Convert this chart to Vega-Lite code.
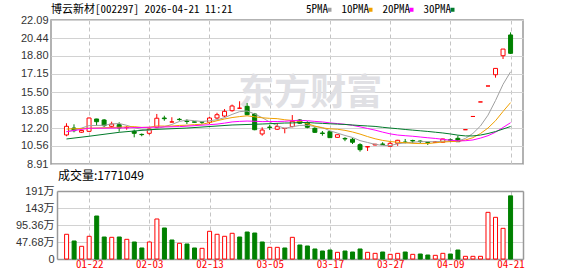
{
  "$schema": "https://vega.github.io/schema/vega-lite/v6.json",
  "padding": {"left": 0, "top": 3, "right": 0, "bottom": 0},
  "background": "white",
  "spacing": 0,
  "datasets": {
    "k": [
      {"i":0,"d":"01-19","o":11.57,"h":12.64,"l":11.45,"c":12.36,"v":69.3,"dir":"u"},
      {"i":1,"d":"01-20","o":12.20,"h":12.54,"l":11.81,"c":11.96,"v":50.5,"dir":"d"},
      {"i":2,"d":"01-21","o":11.82,"h":12.02,"l":11.76,"c":11.98,"v":35.6,"dir":"u"},
      {"i":3,"d":"01-22","o":11.90,"h":13.15,"l":11.85,"c":13.12,"v":63.7,"dir":"u"},
      {"i":4,"d":"01-23","o":13.03,"h":13.05,"l":12.42,"c":12.78,"v":120.6,"dir":"d"},
      {"i":5,"d":"01-26","o":12.94,"h":13.03,"l":12.30,"c":12.42,"v":61.7,"dir":"d"},
      {"i":6,"d":"01-27","o":12.36,"h":12.78,"l":12.21,"c":12.57,"v":60.8,"dir":"u"},
      {"i":7,"d":"01-28","o":12.51,"h":12.73,"l":11.87,"c":12.21,"v":61.7,"dir":"d"},
      {"i":8,"d":"01-29","o":12.24,"h":12.40,"l":12.05,"c":12.26,"v":55.2,"dir":"u"},
      {"i":9,"d":"01-30","o":11.90,"h":12.05,"l":11.35,"c":11.72,"v":47.7,"dir":"d"},
      {"i":10,"d":"02-02","o":11.62,"h":11.70,"l":11.45,"c":11.60,"v":30.9,"dir":"d"},
      {"i":11,"d":"02-03","o":11.72,"h":12.15,"l":11.59,"c":12.11,"v":47.7,"dir":"u"},
      {"i":12,"d":"02-04","o":12.27,"h":13.49,"l":12.20,"c":13.10,"v":112.2,"dir":"u"},
      {"i":13,"d":"02-05","o":13.12,"h":13.33,"l":12.87,"c":13.06,"v":87.0,"dir":"d"},
      {"i":14,"d":"02-06","o":12.75,"h":13.19,"l":12.72,"c":12.76,"v":53.3,"dir":"d"},
      {"i":15,"d":"02-09","o":13.00,"h":13.12,"l":12.87,"c":12.98,"v":44.0,"dir":"u"},
      {"i":16,"d":"02-10","o":12.84,"h":13.00,"l":12.57,"c":12.80,"v":42.1,"dir":"d"},
      {"i":17,"d":"02-11","o":12.77,"h":12.79,"l":12.70,"c":12.73,"v":30.9,"dir":"d"},
      {"i":18,"d":"02-12","o":12.76,"h":12.85,"l":12.58,"c":12.74,"v":30.0,"dir":"u"},
      {"i":19,"d":"02-13","o":12.73,"h":13.24,"l":12.57,"c":13.12,"v":77.7,"dir":"u"},
      {"i":20,"d":"02-24","o":13.12,"h":13.60,"l":13.00,"c":13.42,"v":69.3,"dir":"u"},
      {"i":21,"d":"02-25","o":13.30,"h":13.94,"l":13.19,"c":13.73,"v":63.7,"dir":"u"},
      {"i":22,"d":"02-26","o":13.79,"h":14.35,"l":13.70,"c":14.22,"v":72.1,"dir":"u"},
      {"i":23,"d":"02-27","o":14.01,"h":14.65,"l":13.98,"c":14.02,"v":61.7,"dir":"d"},
      {"i":24,"d":"03-02","o":14.19,"h":14.49,"l":13.38,"c":13.42,"v":75.7,"dir":"d"},
      {"i":25,"d":"03-03","o":13.49,"h":13.58,"l":12.00,"c":12.05,"v":72.9,"dir":"d"},
      {"i":26,"d":"03-04","o":11.66,"h":12.27,"l":11.50,"c":12.02,"v":47.7,"dir":"d"},
      {"i":27,"d":"03-05","o":12.29,"h":12.50,"l":12.02,"c":12.25,"v":32.7,"dir":"u"},
      {"i":28,"d":"03-06","o":12.09,"h":12.64,"l":12.02,"c":12.33,"v":32.7,"dir":"u"},
      {"i":29,"d":"03-09","o":12.16,"h":12.20,"l":11.72,"c":12.18,"v":30.9,"dir":"d"},
      {"i":30,"d":"03-10","o":12.33,"h":13.39,"l":12.27,"c":12.82,"v":60.8,"dir":"u"},
      {"i":31,"d":"03-11","o":12.94,"h":13.03,"l":12.57,"c":12.64,"v":39.3,"dir":"d"},
      {"i":32,"d":"03-12","o":12.69,"h":12.82,"l":12.18,"c":12.27,"v":36.5,"dir":"d"},
      {"i":33,"d":"03-13","o":12.18,"h":12.27,"l":11.75,"c":11.81,"v":28.1,"dir":"d"},
      {"i":34,"d":"03-16","o":11.75,"h":11.93,"l":11.50,"c":11.70,"v":22.4,"dir":"d"},
      {"i":35,"d":"03-17","o":11.87,"h":11.93,"l":11.30,"c":11.32,"v":25.2,"dir":"d"},
      {"i":36,"d":"03-18","o":11.35,"h":11.62,"l":11.33,"c":11.59,"v":18.7,"dir":"u"},
      {"i":37,"d":"03-19","o":11.25,"h":11.36,"l":11.00,"c":11.20,"v":22.4,"dir":"d"},
      {"i":38,"d":"03-20","o":11.17,"h":11.29,"l":10.74,"c":10.90,"v":19.6,"dir":"d"},
      {"i":39,"d":"03-23","o":10.68,"h":10.81,"l":10.04,"c":10.22,"v":28.1,"dir":"d"},
      {"i":40,"d":"03-24","o":10.47,"h":10.52,"l":10.10,"c":10.50,"v":18.7,"dir":"u"},
      {"i":41,"d":"03-25","o":10.65,"h":10.75,"l":10.62,"c":10.72,"v":15.9,"dir":"u"},
      {"i":42,"d":"03-26","o":10.74,"h":10.90,"l":10.68,"c":10.70,"v":19.6,"dir":"d"},
      {"i":43,"d":"03-27","o":10.53,"h":10.95,"l":10.50,"c":10.80,"v":13.1,"dir":"u"},
      {"i":44,"d":"03-30","o":10.80,"h":11.12,"l":10.57,"c":11.08,"v":15.9,"dir":"u"},
      {"i":45,"d":"03-31","o":10.92,"h":11.20,"l":10.80,"c":10.88,"v":19.6,"dir":"d"},
      {"i":46,"d":"04-01","o":11.06,"h":11.13,"l":10.80,"c":11.02,"v":13.1,"dir":"u"},
      {"i":47,"d":"04-02","o":11.01,"h":11.08,"l":10.80,"c":10.97,"v":14.0,"dir":"d"},
      {"i":48,"d":"04-03","o":10.90,"h":10.93,"l":10.65,"c":10.87,"v":11.2,"dir":"d"},
      {"i":49,"d":"04-07","o":10.88,"h":10.98,"l":10.85,"c":10.95,"v":10.3,"dir":"u"},
      {"i":50,"d":"04-08","o":10.90,"h":11.22,"l":10.87,"c":11.20,"v":15.9,"dir":"u"},
      {"i":51,"d":"04-09","o":11.13,"h":11.26,"l":10.92,"c":11.09,"v":14.0,"dir":"d"},
      {"i":52,"d":"04-10","o":11.26,"h":11.50,"l":10.93,"c":10.95,"v":25.2,"dir":"d"},
      {"i":53,"d":"04-13","o":12.05,"h":12.05,"l":12.05,"c":12.05,"v":7.5,"dir":"u"},
      {"i":54,"d":"04-14","o":13.26,"h":13.26,"l":13.26,"c":13.26,"v":7.5,"dir":"u"},
      {"i":55,"d":"04-15","o":14.59,"h":14.59,"l":14.59,"c":14.59,"v":7.5,"dir":"u"},
      {"i":56,"d":"04-16","o":16.05,"h":16.05,"l":16.05,"c":16.05,"v":130.9,"dir":"u"},
      {"i":57,"d":"04-17","o":17.08,"h":17.66,"l":16.81,"c":17.66,"v":116.9,"dir":"u"},
      {"i":58,"d":"04-20","o":18.82,"h":19.43,"l":18.52,"c":19.43,"v":86.0,"dir":"u"},
      {"i":59,"d":"04-21","o":20.72,"h":20.96,"l":18.98,"c":19.04,"v":177.1,"dir":"d"}
    ],
    "ma": [
      {"i":0,"k":"5PMA","v":11.87},{"i":1,"k":"5PMA","v":12.00},{"i":2,"k":"5PMA","v":12.20},{"i":3,"k":"5PMA","v":12.42},{"i":4,"k":"5PMA","v":12.44},{"i":5,"k":"5PMA","v":12.45},{"i":6,"k":"5PMA","v":12.57},{"i":7,"k":"5PMA","v":12.62},{"i":8,"k":"5PMA","v":12.45},{"i":9,"k":"5PMA","v":12.24},{"i":10,"k":"5PMA","v":12.07},{"i":11,"k":"5PMA","v":11.98},{"i":12,"k":"5PMA","v":12.16},{"i":13,"k":"5PMA","v":12.32},{"i":14,"k":"5PMA","v":12.53},{"i":15,"k":"5PMA","v":12.80},{"i":16,"k":"5PMA","v":12.94},{"i":17,"k":"5PMA","v":12.87},{"i":18,"k":"5PMA","v":12.80},{"i":19,"k":"5PMA","v":12.87},{"i":20,"k":"5PMA","v":12.96},{"i":21,"k":"5PMA","v":13.15},{"i":22,"k":"5PMA","v":13.45},{"i":23,"k":"5PMA","v":13.70},{"i":24,"k":"5PMA","v":13.76},{"i":25,"k":"5PMA","v":13.49},{"i":26,"k":"5PMA","v":13.15},{"i":27,"k":"5PMA","v":12.75},{"i":28,"k":"5PMA","v":12.41},{"i":29,"k":"5PMA","v":12.17},{"i":30,"k":"5PMA","v":12.32},{"i":31,"k":"5PMA","v":12.44},{"i":32,"k":"5PMA","v":12.45},{"i":33,"k":"5PMA","v":12.34},{"i":34,"k":"5PMA","v":12.25},{"i":35,"k":"5PMA","v":11.95},{"i":36,"k":"5PMA","v":11.74},{"i":37,"k":"5PMA","v":11.52},{"i":38,"k":"5PMA","v":11.34},{"i":39,"k":"5PMA","v":11.05},{"i":40,"k":"5PMA","v":10.88},{"i":41,"k":"5PMA","v":10.71},{"i":42,"k":"5PMA","v":10.61},{"i":43,"k":"5PMA","v":10.59},{"i":44,"k":"5PMA","v":10.76},{"i":45,"k":"5PMA","v":10.84},{"i":46,"k":"5PMA","v":10.90},{"i":47,"k":"5PMA","v":10.95},{"i":48,"k":"5PMA","v":10.96},{"i":49,"k":"5PMA","v":10.94},{"i":50,"k":"5PMA","v":11.00},{"i":51,"k":"5PMA","v":11.02},{"i":52,"k":"5PMA","v":11.01},{"i":53,"k":"5PMA","v":11.25},{"i":54,"k":"5PMA","v":11.71},{"i":55,"k":"5PMA","v":12.39},{"i":56,"k":"5PMA","v":13.38},{"i":57,"k":"5PMA","v":14.72},{"i":58,"k":"5PMA","v":16.20},{"i":59,"k":"5PMA","v":17.35},
      {"i":0,"k":"10PMA","v":12.11},{"i":3,"k":"10PMA","v":12.18},{"i":6,"k":"10PMA","v":12.25},{"i":9,"k":"10PMA","v":12.33},{"i":10,"k":"10PMA","v":12.26},{"i":11,"k":"10PMA","v":12.27},{"i":12,"k":"10PMA","v":12.39},{"i":13,"k":"10PMA","v":12.38},{"i":14,"k":"10PMA","v":12.38},{"i":15,"k":"10PMA","v":12.44},{"i":16,"k":"10PMA","v":12.46},{"i":17,"k":"10PMA","v":12.51},{"i":18,"k":"10PMA","v":12.55},{"i":19,"k":"10PMA","v":12.69},{"i":20,"k":"10PMA","v":12.87},{"i":21,"k":"10PMA","v":13.03},{"i":22,"k":"10PMA","v":13.16},{"i":23,"k":"10PMA","v":13.25},{"i":24,"k":"10PMA","v":13.32},{"i":25,"k":"10PMA","v":13.23},{"i":26,"k":"10PMA","v":13.14},{"i":27,"k":"10PMA","v":13.09},{"i":28,"k":"10PMA","v":13.06},{"i":29,"k":"10PMA","v":12.96},{"i":30,"k":"10PMA","v":12.90},{"i":31,"k":"10PMA","v":12.80},{"i":32,"k":"10PMA","v":12.60},{"i":33,"k":"10PMA","v":12.38},{"i":34,"k":"10PMA","v":12.21},{"i":35,"k":"10PMA","v":12.13},{"i":36,"k":"10PMA","v":12.09},{"i":37,"k":"10PMA","v":11.99},{"i":38,"k":"10PMA","v":11.84},{"i":39,"k":"10PMA","v":11.65},{"i":40,"k":"10PMA","v":11.42},{"i":41,"k":"10PMA","v":11.22},{"i":42,"k":"10PMA","v":11.07},{"i":43,"k":"10PMA","v":10.97},{"i":44,"k":"10PMA","v":10.90},{"i":45,"k":"10PMA","v":10.86},{"i":46,"k":"10PMA","v":10.80},{"i":47,"k":"10PMA","v":10.78},{"i":48,"k":"10PMA","v":10.78},{"i":49,"k":"10PMA","v":10.85},{"i":50,"k":"10PMA","v":10.92},{"i":51,"k":"10PMA","v":10.96},{"i":52,"k":"10PMA","v":10.98},{"i":53,"k":"10PMA","v":11.11},{"i":54,"k":"10PMA","v":11.32},{"i":55,"k":"10PMA","v":11.70},{"i":56,"k":"10PMA","v":12.20},{"i":57,"k":"10PMA","v":12.87},{"i":58,"k":"10PMA","v":13.72},{"i":59,"k":"10PMA","v":14.53},
      {"i":0,"k":"20PMA","v":11.87},{"i":3,"k":"20PMA","v":12.18},{"i":7,"k":"20PMA","v":12.20},{"i":11,"k":"20PMA","v":12.27},{"i":15,"k":"20PMA","v":12.33},{"i":19,"k":"20PMA","v":12.51},{"i":20,"k":"20PMA","v":12.56},{"i":21,"k":"20PMA","v":12.65},{"i":22,"k":"20PMA","v":12.76},{"i":23,"k":"20PMA","v":12.81},{"i":24,"k":"20PMA","v":12.84},{"i":25,"k":"20PMA","v":12.82},{"i":26,"k":"20PMA","v":12.79},{"i":27,"k":"20PMA","v":12.80},{"i":28,"k":"20PMA","v":12.80},{"i":29,"k":"20PMA","v":12.82},{"i":30,"k":"20PMA","v":12.88},{"i":31,"k":"20PMA","v":12.91},{"i":32,"k":"20PMA","v":12.87},{"i":33,"k":"20PMA","v":12.81},{"i":34,"k":"20PMA","v":12.76},{"i":35,"k":"20PMA","v":12.67},{"i":36,"k":"20PMA","v":12.61},{"i":37,"k":"20PMA","v":12.54},{"i":38,"k":"20PMA","v":12.45},{"i":39,"k":"20PMA","v":12.31},{"i":40,"k":"20PMA","v":12.16},{"i":41,"k":"20PMA","v":12.01},{"i":42,"k":"20PMA","v":11.83},{"i":43,"k":"20PMA","v":11.67},{"i":44,"k":"20PMA","v":11.56},{"i":45,"k":"20PMA","v":11.50},{"i":46,"k":"20PMA","v":11.45},{"i":47,"k":"20PMA","v":11.38},{"i":48,"k":"20PMA","v":11.31},{"i":49,"k":"20PMA","v":11.25},{"i":50,"k":"20PMA","v":11.17},{"i":51,"k":"20PMA","v":11.09},{"i":52,"k":"20PMA","v":11.02},{"i":53,"k":"20PMA","v":11.04},{"i":54,"k":"20PMA","v":11.11},{"i":55,"k":"20PMA","v":11.28},{"i":56,"k":"20PMA","v":11.50},{"i":57,"k":"20PMA","v":11.82},{"i":58,"k":"20PMA","v":12.25},{"i":59,"k":"20PMA","v":12.69},
      {"i":0,"k":"30PMA","v":11.20},{"i":3,"k":"30PMA","v":11.45},{"i":7,"k":"30PMA","v":11.81},{"i":11,"k":"30PMA","v":12.05},{"i":16,"k":"30PMA","v":12.20},{"i":22,"k":"30PMA","v":12.48},{"i":26,"k":"30PMA","v":12.57},{"i":29,"k":"30PMA","v":12.66},{"i":30,"k":"30PMA","v":12.67},{"i":31,"k":"30PMA","v":12.70},{"i":32,"k":"30PMA","v":12.71},{"i":33,"k":"30PMA","v":12.66},{"i":34,"k":"30PMA","v":12.63},{"i":35,"k":"30PMA","v":12.59},{"i":36,"k":"30PMA","v":12.56},{"i":37,"k":"30PMA","v":12.53},{"i":38,"k":"30PMA","v":12.48},{"i":39,"k":"30PMA","v":12.43},{"i":40,"k":"30PMA","v":12.39},{"i":41,"k":"30PMA","v":12.35},{"i":42,"k":"30PMA","v":12.27},{"i":43,"k":"30PMA","v":12.20},{"i":44,"k":"30PMA","v":12.14},{"i":45,"k":"30PMA","v":12.07},{"i":46,"k":"30PMA","v":12.01},{"i":47,"k":"30PMA","v":11.95},{"i":48,"k":"30PMA","v":11.89},{"i":49,"k":"30PMA","v":11.82},{"i":50,"k":"30PMA","v":11.75},{"i":51,"k":"30PMA","v":11.66},{"i":52,"k":"30PMA","v":11.55},{"i":53,"k":"30PMA","v":11.48},{"i":54,"k":"30PMA","v":11.48},{"i":55,"k":"30PMA","v":11.56},{"i":56,"k":"30PMA","v":11.70},{"i":57,"k":"30PMA","v":11.88},{"i":58,"k":"30PMA","v":12.11},{"i":59,"k":"30PMA","v":12.34}
    ],
    "wm": [{"t": "东方财富", "i": 32.4, "p": 15.3}]
  },
  "vconcat": [
    {
      "width": 472,
      "height": 144,
      "title": {"text": "博云新材[002297] 2026-04-21 11:21", "anchor": "start", "frame": "group", "font": "Noto Sans Mono CJK SC, Noto Sans CJK SC", "fontSize": 11, "fontWeight": "normal", "color": "#000000", "offset": -1},
      "resolve": {"axis": {"y": "independent"}},
      "encoding": {
        "x": {"field": "i", "type": "quantitative", "scale": {"domain": [-1.391, 59.987], "nice": false, "zero": false},
              "axis": {"values": [3,11,19,27,35,43,51,59], "labels": false, "ticks": false, "domain": false, "grid": true, "gridDash": [4,3], "gridColor": "#c4c4c4", "title": null}}
      },
      "layer": [
        {
          "data": {"name": "wm"},
          "mark": {"type": "text", "font": "Noto Sans CJK SC", "fontSize": 36, "fontWeight": "bold", "color": "#e0e0e4"},
          "encoding": {
            "y": {"field": "p", "type": "quantitative", "scale": {"domain": [8.91, 22.09], "nice": false, "zero": false}, "axis": null},
            "text": {"field": "t"}
          }
        },
        {
          "data": {"name": "k"},
          "mark": {"type": "rule", "strokeWidth": 1},
          "encoding": {
            "y": {"field": "l", "type": "quantitative",
                  "axis": {"values": [8.91,10.56,12.2,13.85,15.5,17.15,18.8,20.44,22.09], "labelExpr": "format(datum.value, '.2f')", "labelOverlap": false, "labelSeparation": 0, "labelBound": false, "grid": true, "gridColor": "#d2d2d2", "title": null, "ticks": false, "tickSize": 0, "domain": false, "labelPadding": 3, "minExtent": 50, "maxExtent": 50, "labelFont": "Liberation Sans", "labelFontSize": 11, "labelColor": "#333333"}},
            "y2": {"field": "h"},
            "color": {"condition": {"test": "datum.c >= datum.o", "value": "#ff0000"}, "value": "#008000"}
          }
        },
        {
          "data": {"name": "k"},
          "mark": {"type": "bar", "size": 4, "strokeWidth": 1},
          "encoding": {
            "y": {"field": "o", "type": "quantitative", "axis": null},
            "y2": {"field": "c"},
            "fill": {"condition": {"test": "datum.c >= datum.o", "value": "#ffffff"}, "value": "#008000"},
            "stroke": {"condition": {"test": "datum.c >= datum.o", "value": "#ff0000"}, "value": "#008000"}
          }
        },
        {
          "data": {"name": "ma"},
          "mark": {"type": "line", "strokeWidth": 1},
          "encoding": {
            "y": {"field": "v", "type": "quantitative", "axis": null},
            "color": {"field": "k", "type": "nominal",
                      "scale": {"domain": ["5PMA","10PMA","20PMA","30PMA"], "range": ["#a0a0a0","#f0a000","#ff00ff","#007a2a"]},
                      "legend": {"orient": "none", "legendX": 273, "legendY": -16, "direction": "horizontal", "title": null,
                                 "labelFont": "Noto Sans Mono CJK SC, DejaVu Sans Mono", "labelFontSize": 11, "labelColor": "#000000",
                                 "labelAlign": "right", "labelOffset": -7, "symbolType": "square", "symbolSize": 16, "symbolStrokeWidth": 0,
                                 "columnPadding": 9, "padding": 0,
                                 "encode": {"symbols": {"update": {"fill": {"scale": "color", "field": "value"}, "stroke": {"value": "transparent"}}}}}}
          }
        }
      ]
    },
    {
      "width": 472,
      "height": 68,
      "view": {"stroke": null},
      "title": {"text": "成交量:1771049", "anchor": "start", "frame": "group", "font": "Noto Sans CJK SC", "fontSize": 12, "fontWeight": "normal", "color": "#000000", "offset": 2, "dx": 7},
      "data": {"name": "k"},
      "resolve": {"axis": {"x": "independent", "y": "independent"}},
      "layer": [
        {
          "mark": {"type": "bar", "size": 4, "strokeWidth": 1},
          "encoding": {
            "x": {"field": "i", "type": "quantitative", "scale": {"domain": [-0.611, 59.987], "range": [6, 472], "nice": false, "zero": false},
                  "axis": {"values": [3,11,19,27,35,43,51,59], "labelExpr": "['01-22','02-03','02-13','03-05','03-17','03-27','04-09','04-21'][round((datum.value-3)/8)]",
                           "labelColor": "#ff0000", "labelFont": "Noto Sans Mono CJK SC, DejaVu Sans Mono", "labelFontSize": 11, "labelPadding": -1, "labelOverlap": false,
                           "ticks": false, "tickSize": 0, "domain": true, "domainColor": "#999999", "domainWidth": 1.5, "grid": true, "gridDash": [4,3], "gridColor": "#c4c4c4", "title": null}},
            "y": {"field": "v", "type": "quantitative", "scale": {"domain": [0, 190.72], "nice": false, "zero": true},
                  "axis": {"values": [0, 47.68, 95.36, 143.04, 190.72], "offset": -6,
                           "labelExpr": "datum.value == 0 ? '0' : (datum.value > 140 ? format(datum.value, '.0f') : format(datum.value, '.2f')) + '万'",
                           "labelOverlap": false, "grid": true, "gridColor": "#d2d2d2", "title": null, "ticks": false, "tickSize": 0,
                           "domain": true, "domainColor": "#999999", "domainWidth": 1.5, "labelPadding": 3,
                           "minExtent": 50, "maxExtent": 50, "labelFont": "Liberation Sans, Noto Sans CJK SC", "labelFontSize": 11, "labelColor": "#333333"}},
            "fill": {"condition": {"test": "datum.dir == 'u'", "value": "#ffffff"}, "value": "#008000"},
            "stroke": {"condition": {"test": "datum.dir == 'u'", "value": "#ff0000"}, "value": "#008000"}
          }
        },
        {
          "mark": {"type": "point", "opacity": 0},
          "encoding": {
            "x": {"field": "i", "type": "quantitative",
                  "axis": {"orient": "top", "labels": false, "ticks": false, "grid": false, "domain": true, "domainColor": "#999999", "domainWidth": 1.5, "title": null}},
            "y": {"field": "v", "type": "quantitative",
                  "axis": {"orient": "right", "labels": false, "ticks": false, "grid": false, "domain": true, "domainColor": "#999999", "domainWidth": 1.5, "title": null, "minExtent": 0, "maxExtent": 0}}
          }
        }
      ]
    }
  ],
  "config": {
    "view": {"stroke": "#999999", "strokeWidth": 1.5},
    "axis": {"labelFont": "Liberation Sans", "labelOverlap": false}
  }
}
